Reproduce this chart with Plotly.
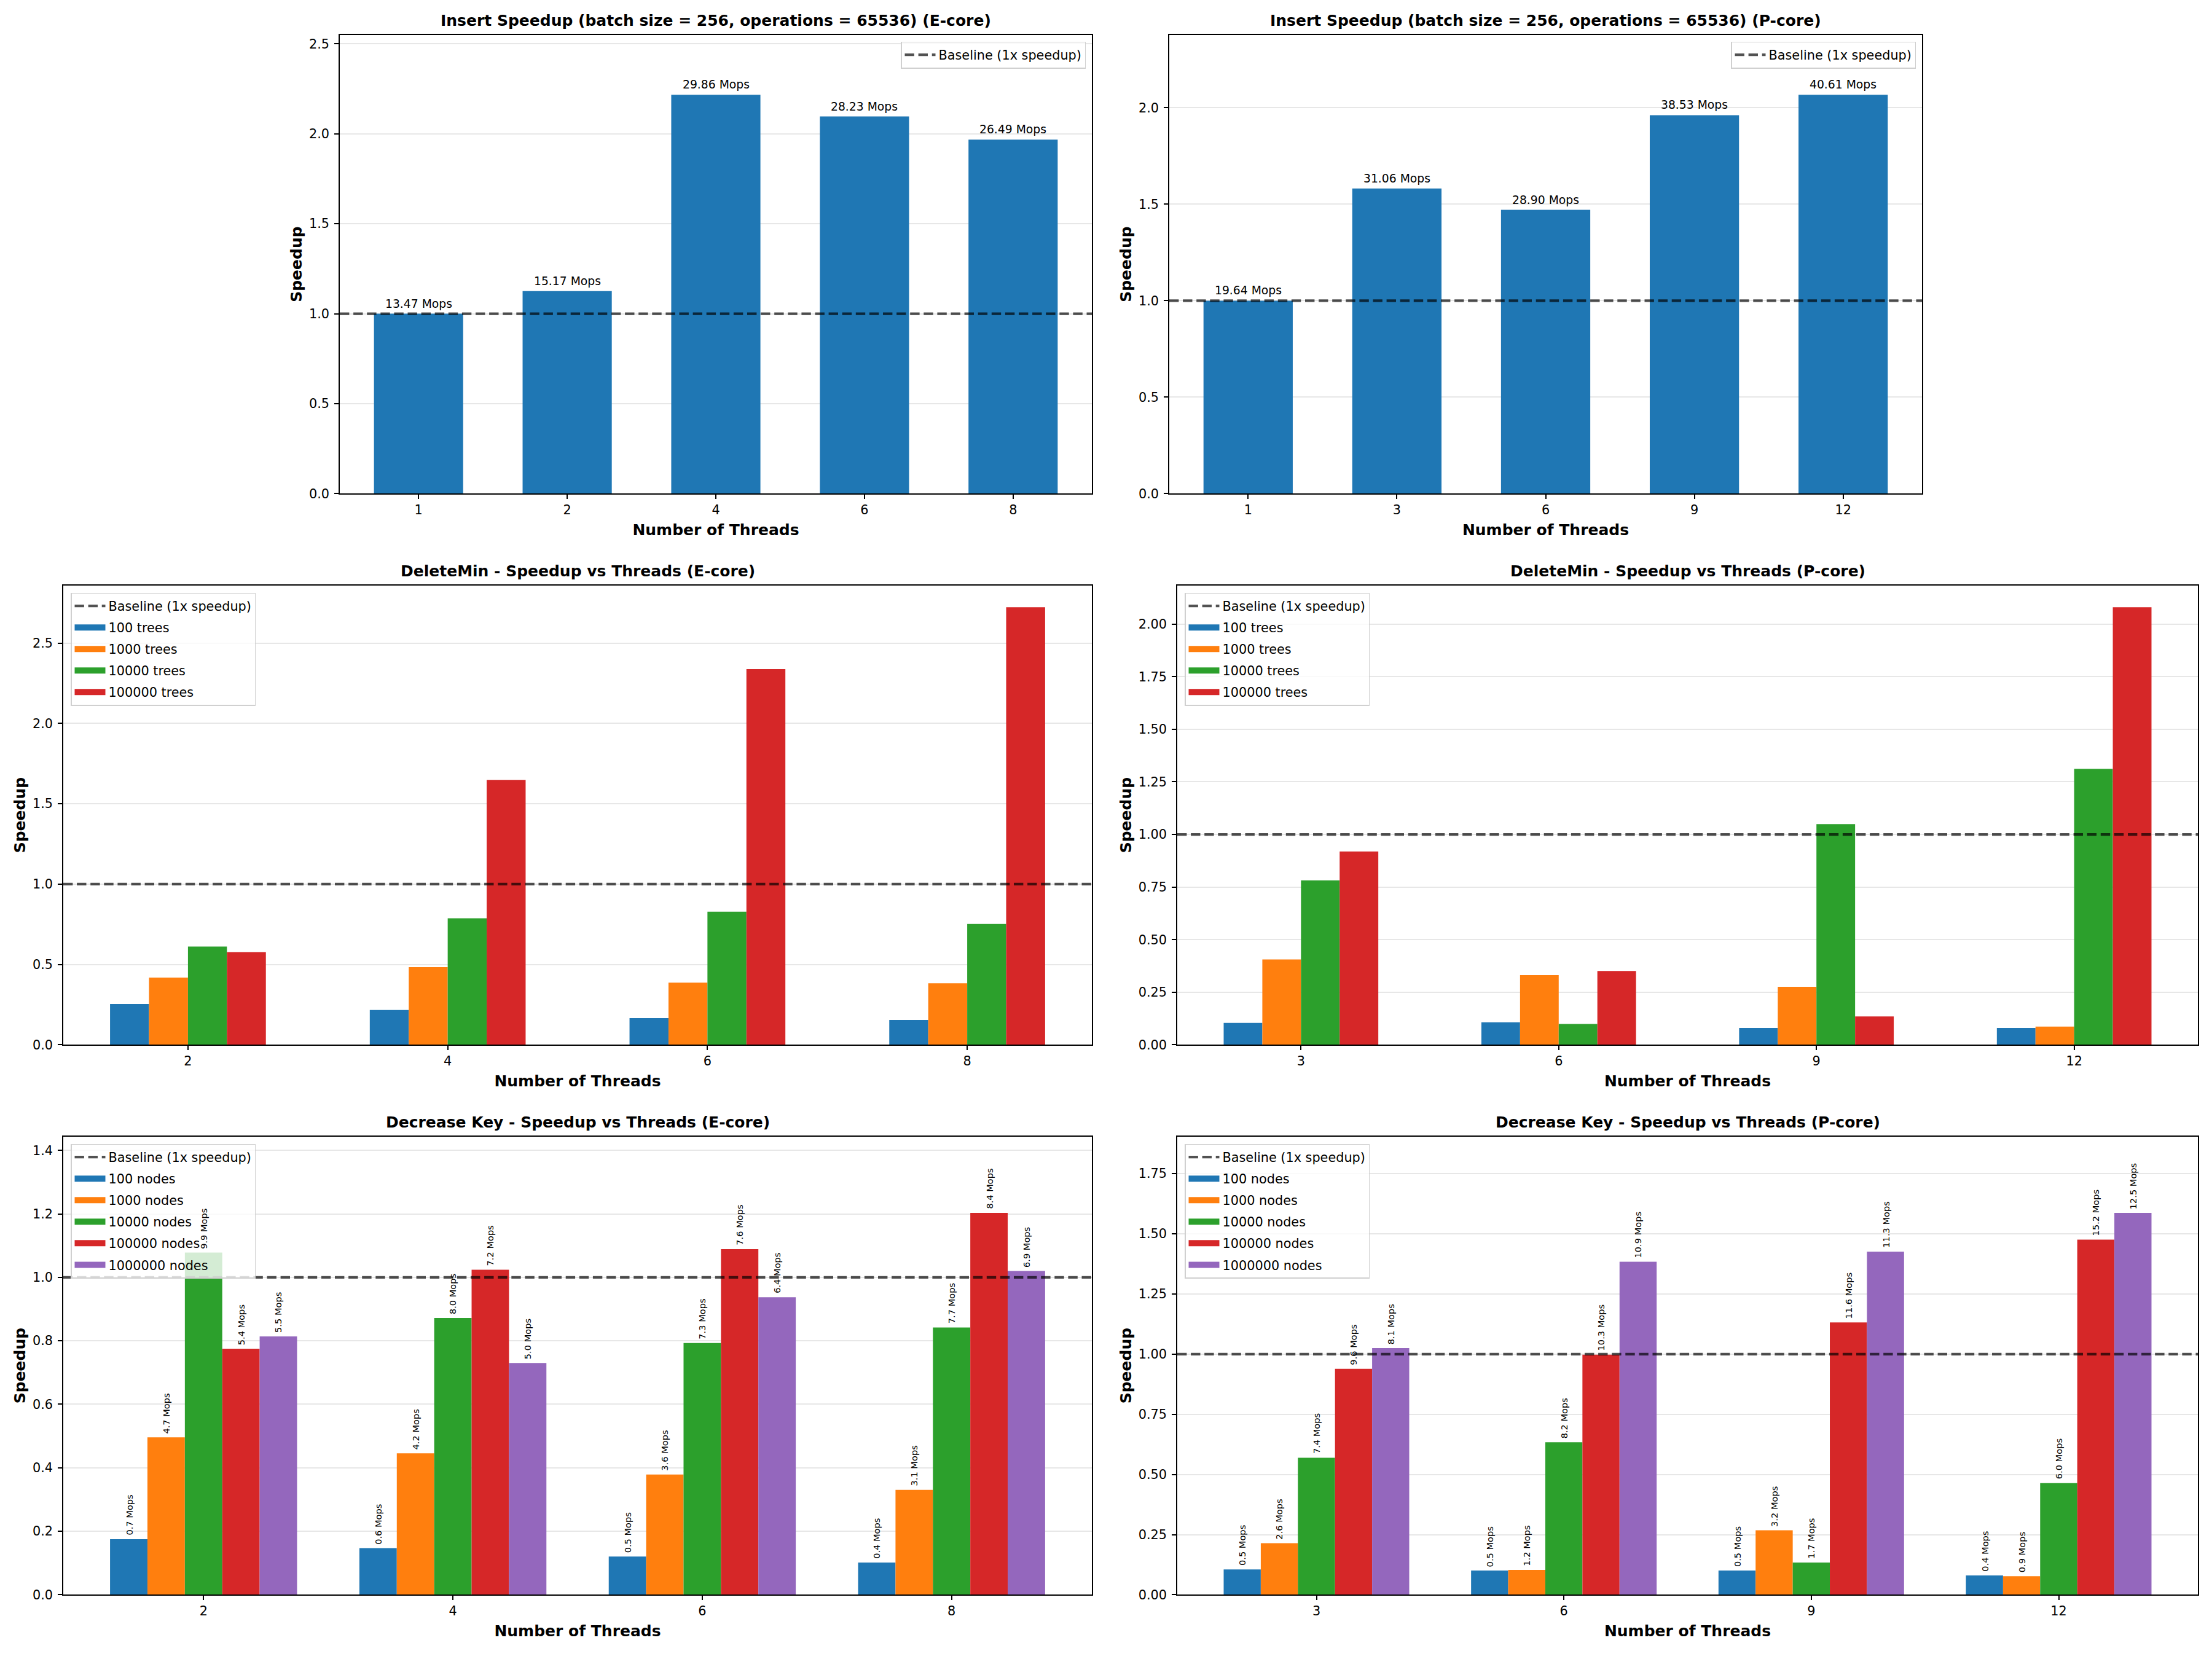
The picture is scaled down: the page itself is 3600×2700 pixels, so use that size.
import plotly.graph_objects as go

FONT = "DejaVu Sans"
W, H = 3600, 2700
COLORS = ["#1f77b4", "#ff7f0e", "#2ca02c", "#d62728", "#9467bd"]

# ---------------- data ----------------
# Insert (E-core)
ins_e_threads = ["1", "2", "4", "6", "8"]
ins_e_speedup = [1.000, 1.126, 2.217, 2.096, 1.967]
ins_e_mops = [13.47, 15.17, 29.86, 28.23, 26.49]

# Insert (P-core)
ins_p_threads = ["1", "3", "6", "9", "12"]
ins_p_speedup = [1.000, 1.582, 1.471, 1.962, 2.068]
ins_p_mops = [19.64, 31.06, 28.90, 38.53, 40.61]

# DeleteMin (E-core)
dm_e_threads = ["2", "4", "6", "8"]
dm_e_names = ["100 trees", "1000 trees", "10000 trees", "100000 trees"]
dm_e_100 = [0.254, 0.217, 0.166, 0.155]
dm_e_1000 = [0.418, 0.483, 0.387, 0.383]
dm_e_10000 = [0.612, 0.787, 0.829, 0.752]
dm_e_100000 = [0.577, 1.649, 2.338, 2.723]

# DeleteMin (P-core)
dm_p_threads = ["3", "6", "9", "12"]
dm_p_names = ["100 trees", "1000 trees", "10000 trees", "100000 trees"]
dm_p_100 = [0.104, 0.107, 0.080, 0.080]
dm_p_1000 = [0.406, 0.331, 0.276, 0.087]
dm_p_10000 = [0.782, 0.099, 1.049, 1.312]
dm_p_100000 = [0.919, 0.351, 0.135, 2.080]

# Decrease Key (E-core)
dk_e_threads = ["2", "4", "6", "8"]
dk_e_names = ["100 nodes", "1000 nodes", "10000 nodes", "100000 nodes", "1000000 nodes"]
dk_e_100 = [0.175, 0.147, 0.1205, 0.1017]
dk_e_1000 = [0.496, 0.4456, 0.379, 0.3306]
dk_e_10000 = [1.078, 0.872, 0.793, 0.842]
dk_e_100000 = [0.775, 1.024, 1.089, 1.203]
dk_e_1000000 = [0.814, 0.730, 0.9375, 1.020]
dk_e_mops_100 = [0.7, 0.6, 0.5, 0.4]
dk_e_mops_1000 = [4.7, 4.2, 3.6, 3.1]
dk_e_mops_10000 = [9.9, 8.0, 7.3, 7.7]
dk_e_mops_100000 = [5.4, 7.2, 7.6, 8.4]
dk_e_mops_1000000 = [5.5, 5.0, 6.4, 6.9]

# Decrease Key (P-core)
dk_p_threads = ["3", "6", "9", "12"]
dk_p_names = ["100 nodes", "1000 nodes", "10000 nodes", "100000 nodes", "1000000 nodes"]
dk_p_100 = [0.105, 0.1006, 0.1006, 0.080]
dk_p_1000 = [0.214, 0.1035, 0.268, 0.0773]
dk_p_10000 = [0.569, 0.634, 0.134, 0.464]
dk_p_100000 = [0.939, 0.9975, 1.132, 1.476]
dk_p_1000000 = [1.025, 1.384, 1.426, 1.587]
dk_p_mops_100 = [0.5, 0.5, 0.5, 0.4]
dk_p_mops_1000 = [2.6, 1.2, 3.2, 0.9]
dk_p_mops_10000 = [7.4, 8.2, 1.7, 6.0]
dk_p_mops_100000 = [9.6, 10.3, 11.6, 15.2]
dk_p_mops_1000000 = [8.1, 10.9, 11.3, 12.5]

# ---------------- panels ----------------
panels = [
    dict(title="Insert Speedup (batch size = 256, operations = 65536) (E-core)",
         box=(553, 1777, 57, 807), cats=ins_e_threads,
         series=[(None, ins_e_speedup, [f"{m:.2f} Mops" for m in ins_e_mops])],
         width=0.6, yfac=1.15, dtick=0.5, fmt=".1f", legend="ur", rot=False),
    dict(title="Insert Speedup (batch size = 256, operations = 65536) (P-core)",
         box=(1903, 3128, 57, 807), cats=ins_p_threads,
         series=[(None, ins_p_speedup, [f"{m:.2f} Mops" for m in ins_p_mops])],
         width=0.6, yfac=1.15, dtick=0.5, fmt=".1f", legend="ur", rot=False),
    dict(title="DeleteMin - Speedup vs Threads (E-core)",
         box=(103, 1777, 957, 1708), cats=dm_e_threads,
         series=[(n, v, None) for n, v in zip(dm_e_names, [dm_e_100, dm_e_1000, dm_e_10000, dm_e_100000])],
         width=0.15, yfac=1.05, dtick=0.5, fmt=".1f", legend="ul", rot=False),
    dict(title="DeleteMin - Speedup vs Threads (P-core)",
         box=(1916, 3577, 957, 1708), cats=dm_p_threads,
         series=[(n, v, None) for n, v in zip(dm_p_names, [dm_p_100, dm_p_1000, dm_p_10000, dm_p_100000])],
         width=0.15, yfac=1.05, dtick=0.25, fmt=".2f", legend="ul", rot=False),
    dict(title="Decrease Key - Speedup vs Threads (E-core)",
         box=(103, 1777, 1858, 2607), cats=dk_e_threads,
         series=[(n, v, [f"{m:.1f} Mops" for m in mm]) for n, v, mm in zip(
             dk_e_names,
             [dk_e_100, dk_e_1000, dk_e_10000, dk_e_100000, dk_e_1000000],
             [dk_e_mops_100, dk_e_mops_1000, dk_e_mops_10000, dk_e_mops_100000, dk_e_mops_1000000])],
         width=0.15, yfac=1.2, dtick=0.2, fmt=".1f", legend="ul", rot=True),
    dict(title="Decrease Key - Speedup vs Threads (P-core)",
         box=(1916, 3577, 1858, 2607), cats=dk_p_threads,
         series=[(n, v, [f"{m:.1f} Mops" for m in mm]) for n, v, mm in zip(
             dk_p_names,
             [dk_p_100, dk_p_1000, dk_p_10000, dk_p_100000, dk_p_1000000],
             [dk_p_mops_100, dk_p_mops_1000, dk_p_mops_10000, dk_p_mops_100000, dk_p_mops_1000000])],
         width=0.15, yfac=1.2, dtick=0.25, fmt=".2f", legend="ul", rot=True),
]

TICK_PX = 20.8
LABEL_PX = 25
LEG_PX = 20.8

fig = go.Figure()
layout = dict(width=W, height=H, margin=dict(l=0, r=0, t=0, b=0),
              paper_bgcolor="white", plot_bgcolor="white",
              font=dict(family=FONT, color="black", size=TICK_PX),
              showlegend=True, annotations=[])

for k, p in enumerate(panels, start=1):
    sfx = "" if k == 1 else str(k)
    xa, ya = "x" + sfx, "y" + sfx
    lg = "legend" + sfx
    x0, x1, y0, y1 = p["box"]
    n = len(p["cats"])
    ns = len(p["series"])
    w = p["width"]
    half = ns * w / 2.0
    lo, hi = -half, (n - 1) + half
    pad = 0.05 * (hi - lo)
    xr = [lo - pad, hi + pad]
    ymax = max(max(s[1]) for s in p["series"]) * p["yfac"]

    # bars (legend entries drawn with wide patch-like handles below)
    for j, (name, vals, labels) in enumerate(p["series"]):
        off = (j - (ns - 1) / 2.0) * w
        xs = [i + off for i in range(n)]
        color = COLORS[j] if ns > 1 else COLORS[0]
        fig.add_trace(go.Bar(
            x=xs, y=vals, width=w, name=name if name else "",
            marker=dict(color=color, line=dict(width=0)),
            showlegend=False, xaxis=xa, yaxis=ya, legendgroup=f"g{k}_{j}"))
        if labels:
            for xv, yv, t in zip(xs, vals, labels):
                if p["rot"]:
                    layout["annotations"].append(dict(
                        x=xv, y=yv, xref=xa, yref=ya, text=t, showarrow=False,
                        textangle=-90, xanchor="center", yanchor="bottom", yshift=4,
                        font=dict(family=FONT, size=14.6, color="black")))
                else:
                    layout["annotations"].append(dict(
                        x=xv, y=yv, xref=xa, yref=ya, text=t, showarrow=False,
                        xanchor="center", yanchor="bottom", yshift=4,
                        font=dict(family=FONT, size=18.75, color="black")))

    # baseline (drawn above bars)
    fig.add_trace(go.Scatter(
        x=xr, y=[1, 1], mode="lines", name="Baseline (1x speedup)",
        line=dict(color="rgba(0,0,0,0.68)", width=4.2, dash="15.4px,6.7px"),
        xaxis=xa, yaxis=ya, legend=lg, legendgroup=f"b{k}", legendrank=1,
        hoverinfo="skip"))

    # legend handles for bar series
    for j, (name, vals, labels) in enumerate(p["series"]):
        if name is None:
            continue
        fig.add_trace(go.Scatter(
            x=[None], y=[None], mode="lines", name=name,
            line=dict(color=COLORS[j], width=16),
            xaxis=xa, yaxis=ya, legend=lg, legendgroup=f"g{k}_{j}",
            legendrank=2 + j, hoverinfo="skip"))

    xdom = [x0 / W, x1 / W]
    ydom = [1 - y1 / H, 1 - y0 / H]
    axis_common = dict(showline=True, mirror=True, linecolor="black", linewidth=1.7,
                       ticks="outside", ticklen=7, tickwidth=1.7, tickcolor="black",
                       tickfont=dict(family=FONT, size=TICK_PX, color="black"),
                       zeroline=False)
    layout["xaxis" + sfx] = dict(
        domain=xdom, anchor=ya, range=xr, tickmode="array",
        tickvals=list(range(n)), ticktext=p["cats"], showgrid=False,
        title=dict(text="<b>Number of Threads</b>", standoff=12,
                   font=dict(family=FONT, size=LABEL_PX, color="black")),
        **axis_common)
    layout["yaxis" + sfx] = dict(
        domain=ydom, anchor=xa, range=[0, ymax], dtick=p["dtick"], tick0=0,
        tickformat=p["fmt"], showgrid=True, gridcolor="rgba(176,176,176,0.3)",
        gridwidth=1.7, ticklabelstandoff=4,
        title=dict(text="<b>Speedup</b>", standoff=4,
                   font=dict(family=FONT, size=LABEL_PX, color="black")),
        **axis_common)

    # subplot title
    layout["annotations"].append(dict(
        x=(x0 + x1) / 2 / W, y=1 - y0 / H, xref="paper", yref="paper",
        text=f"<b>{p['title']}</b>", showarrow=False, xanchor="center",
        yanchor="bottom", yshift=7,
        font=dict(family=FONT, size=LABEL_PX, color="black")))

    leg = dict(bgcolor="rgba(255,255,255,0.8)", bordercolor="#d0d0d0", borderwidth=1.5,
               font=dict(family=FONT, size=LEG_PX, color="black"),
               xref="paper", yref="paper", yanchor="top", tracegroupgap=5,
               itemwidth=50, traceorder="grouped")
    if p["legend"] == "ur":
        leg.update(x=(x1 - 10) / W, xanchor="right", y=1 - (y0 + 11) / H)
    else:
        leg.update(x=(x0 + 12) / W, xanchor="left", y=1 - (y0 + 12) / H)
    layout[lg] = leg

fig.update_layout(**layout)
fig.write_html("out.html")
